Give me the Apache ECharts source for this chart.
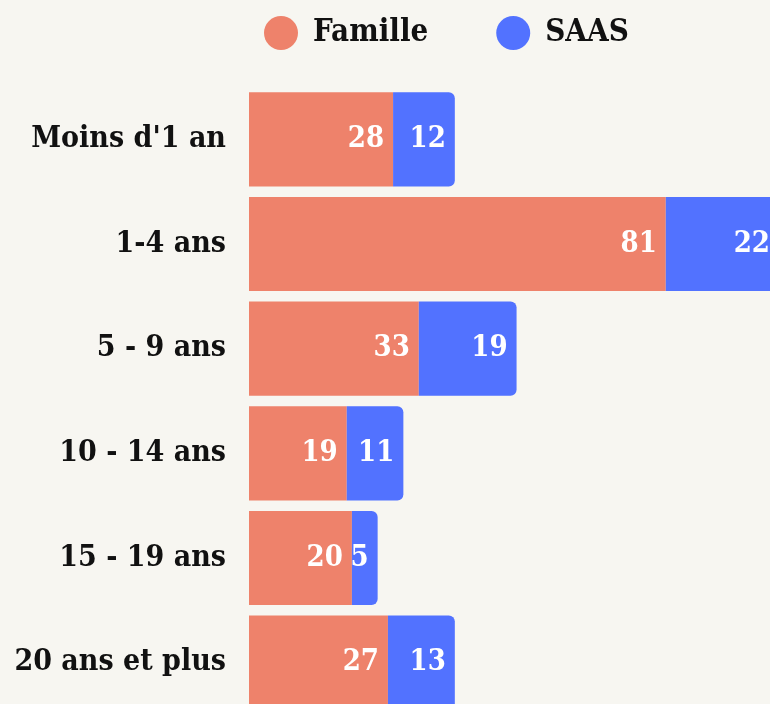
<!DOCTYPE html>
<html>
<head>
<meta charset="utf-8">
<script src="https://cdn.jsdelivr.net/npm/echarts@6/dist/echarts.min.js"></script>
<style>
  html, body { margin: 0; padding: 0; background: #f7f6f1; }
  #myChart { width: 770px; height: 704px; }
</style>
</head>
<body>
<div id="myChart"></div>
<script>
  var categories = ['Moins d\'1 an', '1-4 ans', '5 - 9 ans', '10 - 14 ans', '15 - 19 ans', '20 ans et plus']
  var famille = [28, 81, 33, 19, 20, 27]
  var saas = [12, 22, 19, 11, 5, 13]
  var seriesNames = ['Famille', 'SAAS']

  var FONT = '"DejaVu Serif Condensed", "DejaVu Serif", serif'
  var labelStyle = {
    show: true,
    position: 'insideRight',
    distance: 9,
    color: '#fff',
    fontFamily: FONT,
    fontWeight: 'bold',
    fontSize: 29
  }

  var myChart = echarts.init(document.getElementById('myChart'))
  myChart.setOption({
    backgroundColor: '#f7f6f1',
    animation: false,
    color: ['#ee826b', '#5272ff'],
    legend: {
      top: 11,
      left: 259,
      icon: 'circle',
      itemWidth: 34,
      itemHeight: 34,
      itemGap: 68,
      textStyle: { fontFamily: FONT, fontWeight: 'bold', fontSize: 31, color: '#111', padding: [0, 0, 0, 10] },
      data: seriesNames
    },
    // chart runs past the right and bottom edge, like the original
    grid: { left: 249, top: 87, width: 530, height: 628, containLabel: false, outerBoundsMode: 'none' },
    xAxis: {
      type: 'value',
      min: 0,
      max: 103,
      show: false
    },
    yAxis: {
      type: 'category',
      inverse: true,
      data: categories,
      axisLine: { show: false },
      axisTick: { show: false },
      axisLabel: { margin: 23, color: '#111', fontFamily: FONT, fontWeight: 'bold', fontSize: 30 }
    },
    series: [
      {
        name: seriesNames[0],
        type: 'bar',
        stack: 'total',
        barCategoryGap: '10%',
        label: labelStyle,
        data: famille
      },
      {
        name: seriesNames[1],
        type: 'bar',
        stack: 'total',
        barCategoryGap: '10%',
        itemStyle: { borderRadius: [0, 6, 6, 0] },
        label: labelStyle,
        data: saas
      }
    ]
  })
</script>
</body>
</html>
